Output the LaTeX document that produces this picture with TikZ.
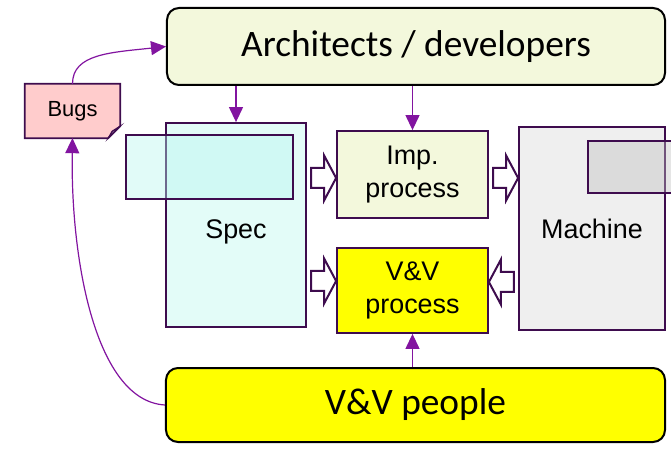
\documentclass[tikz,border=0pt]{standalone}
\usepackage{fontspec}
\setmainfont{Liberation Sans}
\newfontfamily\calibri{Carlito}
\usetikzlibrary{arrows.meta, calc, positioning, backgrounds}
\definecolor{flowpurple}{RGB}{130,20,160}
\definecolor{edgepurple}{RGB}{62,12,78}
\definecolor{archgreen}{RGB}{243,248,220}
\definecolor{specblue}{RGB}{227,252,248}
\definecolor{specinner}{RGB}{180,245,238}
\definecolor{machgray}{RGB}{239,239,239}
\definecolor{bugpink}{RGB}{255,204,204}
\definecolor{vvyellow}{RGB}{255,255,0}

% hollow block arrow: #1 = tip, #2 = 1 (points right) or -1 (points left)
\newcommand{\fatarrow}[2]{%
  \draw[fatarr] (#1) -- ++({-12*#2},-22.5) -- ++(0,12.5) -- ++({-13*#2},0)
    -- ++(0,20) -- ++({13*#2},0) -- ++(0,12.5) -- cycle;}

\begin{document}
\begin{tikzpicture}[x=1bp, y=-1bp,
    box/.style={draw=edgepurple, line width=1.8bp, inner sep=0pt, align=center,
      font=\fontsize{27}{33}\selectfont},
    bigbox/.style={draw=black, line width=2bp, rounded corners=12bp, inner sep=0pt,
      font=\calibri\fontsize{37.5}{42}\selectfont},
    flow/.style={flowpurple, line width=1.2bp, -{Triangle[length=15bp, width=14bp]}},
    fatarr/.style={draw=edgepurple, line width=2bp, fill=white, line join=miter}]
    \clip (0,0) rectangle (671,451);

    % People
    \node[bigbox, fill=archgreen, minimum width=498bp, minimum height=77bp]
      (arch) at (416,46.5) {Architects / developers};
    \node[bigbox, fill=vvyellow, minimum width=499bp, minimum height=74bp]
      (vvpeople) at (415.5,405) {V\&V people};

    % Spec and machine
    \node[box, fill=specblue, minimum width=140bp, minimum height=204bp]
      (spec) at (236,225) {\\[0pt]Spec};
    \node[box, fill=specinner, fill opacity=0.4, draw opacity=1,
      minimum width=167bp, minimum height=64bp] (specin) at (209.5,167) {};
    \node[box, fill=machgray, minimum width=146bp, minimum height=203bp]
      (mach) at (592,228.5) {Machine};
    \node[box, fill=black!25, fill opacity=0.4, draw opacity=1,
      minimum width=92bp, minimum height=52bp] (machin) at (634,167) {};

    % Processes
    \node[box, fill=archgreen, minimum width=151bp, minimum height=87bp]
      (imp) at (412.5,174.5) {Imp.\\process};
    \node[box, fill=vvyellow, minimum width=151bp, minimum height=85bp]
      (vvp) at (412.5,290.5) {V\&V\\process};

    % Bugs note
    \node[minimum width=95bp, minimum height=54bp, inner sep=0pt,
      font=\fontsize{22}{26}\selectfont] (bugs) at (72.5,111) {Bugs};
    \begin{scope}[on background layer]
      \draw[edgepurple, line width=1.8bp, fill=bugpink, line join=miter]
        (bugs.north west) -- (bugs.north east) -- ($(bugs.south east)+(0,-12)$)
        -- ($(bugs.south east)+(-12,0)$) -- (bugs.south west) -- cycle;
      \draw[edgepurple, line width=1.2bp, fill=edgepurple!60]
        ($(bugs.south east)+(0,-12)$) -- ($(bugs.south east)+(-8,-7)$)
        -- ($(bugs.south east)+(-12,0)$) -- cycle;
    \end{scope}

    % Block arrows
    \fatarrow{$(imp.west)+(0,3.5)$}{1}
    \fatarrow{$(mach.west |- imp.west)+(0,3.5)$}{1}
    \fatarrow{$(vvp.west)+(0,-9.5)$}{1}
    \fatarrow{$(vvp.east)+(0,-8.5)$}{-1}

    % Flows
    \draw[flow] (arch.south -| spec.north) -- (spec.north);
    \draw[flow] (arch.south -| imp.north) -- (imp.north);
    \draw[flow] (vvpeople.north -| vvp.south) -- (vvp.south);
    \draw[flow] (bugs.north) .. controls +(0,-30) and +(-55,6) .. (arch.west);
    \draw[flow] (vvpeople.west) .. controls +(-70,-4) and +(-2,120) .. (bugs.south);
\end{tikzpicture}
\end{document}
